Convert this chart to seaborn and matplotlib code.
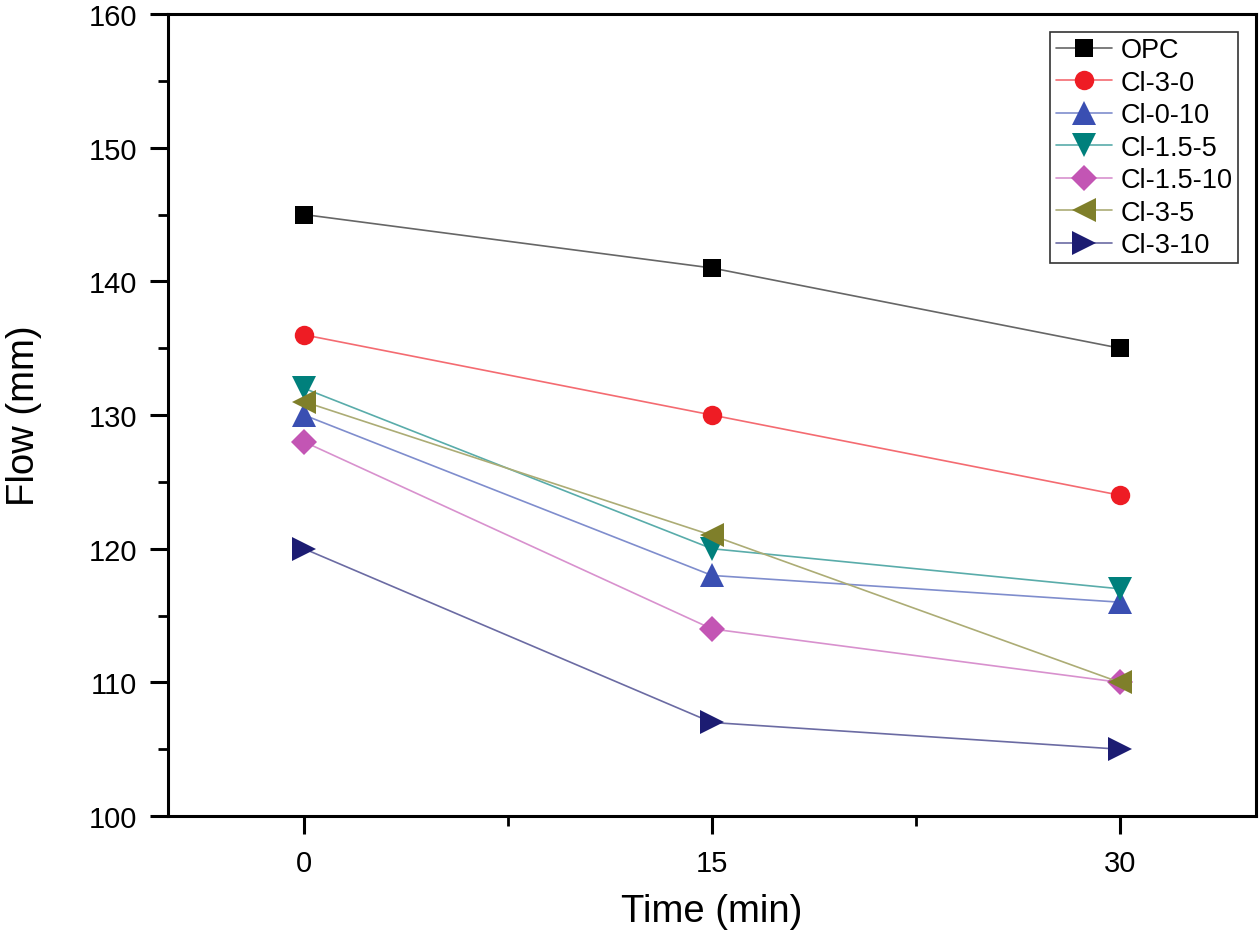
import pandas as pd
import numpy as np
import matplotlib
matplotlib.use("Agg")
import matplotlib.pyplot as plt
from matplotlib.ticker import MultipleLocator
import matplotlib.colors as mcolors
import seaborn as sns

# data
times = [0, 15, 30]
series_names = ["OPC", "Cl-3-0", "Cl-0-10", "Cl-1.5-5", "Cl-1.5-10", "Cl-3-5", "Cl-3-10"]
opc      = [145, 141, 135]
cl_3_0   = [136, 130, 124]
cl_0_10  = [130, 118, 116]
cl_15_5  = [132, 120, 117]
cl_15_10 = [128, 114, 110]
cl_3_5   = [131, 121, 110]
cl_3_10  = [120, 107, 105]

colors = {
    "OPC"      : "#000000",
    "Cl-3-0"   : "#EE1C24",
    "Cl-0-10"  : "#3A4FB2",
    "Cl-1.5-5" : "#00807C",
    "Cl-1.5-10": "#C355B4",
    "Cl-3-5"   : "#7F7F2A",
    "Cl-3-10"  : "#1C1C72",
}
markers = {
    "OPC"      : "s",
    "Cl-3-0"   : "o",
    "Cl-0-10"  : "^",
    "Cl-1.5-5" : "v",
    "Cl-1.5-10": "D",
    "Cl-3-5"   : "<",
    "Cl-3-10"  : ">",
}
sizes = {"OPC": 12.5, "Cl-3-0": 14, "Cl-0-10": 17, "Cl-1.5-5": 17,
         "Cl-1.5-10": 13, "Cl-3-5": 17, "Cl-3-10": 17}

values = [opc, cl_3_0, cl_0_10, cl_15_5, cl_15_10, cl_3_5, cl_3_10]
df = pd.DataFrame({
    "Time"  : np.tile(times, len(series_names)),
    "Flow"  : np.concatenate(values),
    "Sample": np.repeat(series_names, len(times)),
})


def lighten(c, amt=0.3):
    r, g, b = mcolors.to_rgb(c)
    return (r + (1 - r) * amt, g + (1 - g) * amt, b + (1 - b) * amt)


sns.set_style("ticks")
plt.rcParams["font.family"] = ["Liberation Sans", "DejaVu Sans"]
plt.rcParams.update({
    "axes.linewidth"   : 2.2,
    "xtick.major.width": 2.2,
    "ytick.major.width": 2.2,
    "xtick.minor.width": 2.0,
    "ytick.minor.width": 2.0,
    "xtick.major.size" : 13,
    "ytick.major.size" : 13,
    "xtick.minor.size" : 7,
    "ytick.minor.size" : 7,
    "xtick.direction"  : "out",
    "ytick.direction"  : "out",
    "axes.edgecolor"   : "black",
    "xtick.color"      : "black",
    "ytick.color"      : "black",
    "text.color"       : "black",
    "axes.labelcolor"  : "black",
})

fig = plt.figure(figsize=(12.6, 9.37), dpi=100)
ax = fig.add_axes([0.1333, 0.128, 0.8635, 0.856])

for name in series_names:
    sub = df[df["Sample"] == name]
    sns.lineplot(data=sub, x="Time", y="Flow", ax=ax,
                 color=colors[name], marker=markers[name],
                 markersize=sizes[name], markeredgewidth=0,
                 linewidth=1.2, label=name, legend=False)
    ln = ax.lines[-1]
    ln.set_color(lighten(colors[name], 0.35 if name != "OPC" else 0.4))
    ln.set_markerfacecolor(colors[name])
    ln.set_markeredgecolor(colors[name])

ax.set_xlim(-5, 35)
ax.set_ylim(100, 160)
ax.xaxis.set_major_locator(MultipleLocator(15))
ax.xaxis.set_minor_locator(MultipleLocator(7.5))
ax.yaxis.set_major_locator(MultipleLocator(10))
ax.yaxis.set_minor_locator(MultipleLocator(5))
ax.tick_params(axis="both", which="both", top=False, right=False,
               labelsize=21)
ax.tick_params(axis="y", pad=9)
ax.tick_params(axis="x", pad=11)

ax.set_xlabel("Time (min)", fontsize=27.5, labelpad=11)
ax.set_ylabel("Flow (mm)", fontsize=27.5, labelpad=34)
for side in ["top", "right"]:
    ax.spines[side].set_visible(True)

handles = ax.lines[:len(series_names)]
leg = ax.legend(handles, series_names, loc="upper right",
                bbox_to_anchor=(0.9835, 0.978),
                fontsize=19.5, frameon=True, fancybox=False,
                edgecolor="#333333", framealpha=1,
                handlelength=2.1, handletextpad=0.3,
                labelspacing=0.24, borderpad=0.2, borderaxespad=0)
leg.get_frame().set_linewidth(1.2)

plt.savefig("out.png", dpi=100)
